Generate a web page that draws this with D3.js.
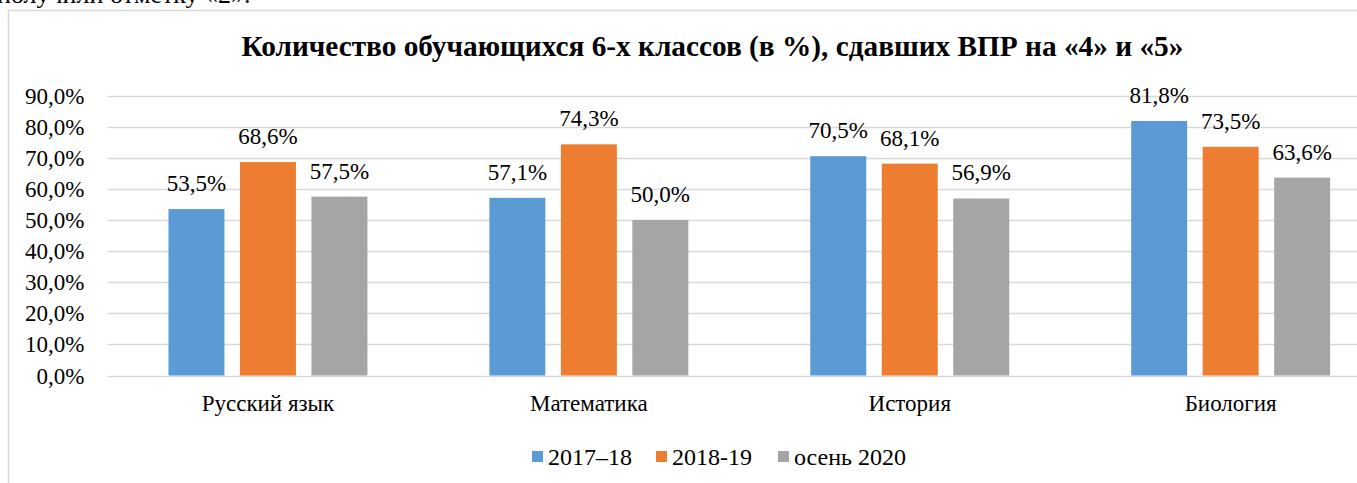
<!DOCTYPE html>
<html>
<head>
<meta charset="utf-8">
<script src="https://cdn.jsdelivr.net/npm/d3@7"></script>
<style>
  body { margin: 0; background: #fff; }
  svg text { font-family: "Liberation Serif", "Times New Roman", Tinos, serif !important; }
</style>
</head>
<body>
<div id="chart"></div>
<script>
// =========================
// DATA
// =========================
const categories = ["Русский язык", "Математика", "История", "Биология"];
const seriesNames = ["2017–18", "2018-19", "осень 2020"];
const values2017 = [53.5, 57.1, 70.5, 81.8];
const values2018 = [68.6, 74.3, 68.1, 73.5];
const valuesAutumn2020 = [57.5, 50.0, 56.9, 63.6];
const yTicks = [0, 10, 20, 30, 40, 50, 60, 70, 80, 90];
const colors = ["#5B9BD5", "#ED7D31", "#A5A5A5"];

const series = [values2017, values2018, valuesAutumn2020];
const rows = categories.map((c, i) => ({
    category: c,
    values: series.map((s, j) => ({ key: seriesNames[j], value: s[i] }))
}));

const fmt = v => v.toFixed(1).replace(".", ",") + "%";

// =========================
// SETUP
// =========================
const width = 1357;
const height = 483;
const plot = { left: 107.5, right: 107.5 + 4 * 320.9, top: 95.5, bottom: 375.5 };

const svg = d3.select("#chart")
    .append("svg")
    .attr("width", width)
    .attr("height", height)
    .style("display", "block");

// line of page text above the chart (cut off by the crop)
svg.append("text")
    .attr("x", -3)
    .attr("y", 3)
    .style("font-size", "26px")
    .text("получили отметку «2».");

// chart frame
svg.append("rect")
    .attr("x", 8.5)
    .attr("y", 10.5)
    .attr("width", 1500)
    .attr("height", 600)
    .attr("fill", "none")
    .attr("stroke", "#D9D9D9")
    .attr("stroke-width", 1.5);

// =========================
// SCALES
// =========================
const x0 = d3.scaleBand()
    .domain(categories)
    .range([plot.left, plot.right])
    .paddingInner(0.38)
    .paddingOuter(0.19);

const x1 = d3.scaleBand()
    .domain(seriesNames)
    .range([0, x0.bandwidth()])
    .paddingInner(0.217);

const y = d3.scaleLinear()
    .domain([0, 90])
    .range([plot.bottom, plot.top]);

// =========================
// GRID + Y AXIS
// =========================
svg.append("g")
    .selectAll("line")
    .data(yTicks)
    .join("line")
    .attr("x1", plot.left)
    .attr("x2", plot.right)
    .attr("y1", d => Math.round(y(d)) + 0.5)
    .attr("y2", d => Math.round(y(d)) + 0.5)
    .attr("stroke", "#D9D9D9")
    .attr("stroke-width", 1.5);

const yAxis = svg.append("g")
    .attr("transform", `translate(${plot.left - 23},0)`)
    .call(d3.axisLeft(y).tickValues(yTicks).tickSize(0).tickPadding(0).tickFormat(fmt));
yAxis.select(".domain").remove();
yAxis.selectAll("text")
    .attr("dy", "0.33em")
    .style("font-size", "23px")
    .attr("fill", "#000");

// =========================
// BARS
// =========================
const groups = svg.append("g")
    .selectAll("g")
    .data(rows)
    .join("g")
    .attr("transform", d => `translate(${x0(d.category)},0)`);

groups.selectAll("rect")
    .data(d => d.values)
    .join("rect")
    .attr("x", d => x1(d.key))
    .attr("y", d => y(d.value))
    .attr("width", x1.bandwidth())
    .attr("height", d => y(0) - y(d.value))
    .attr("fill", (d, i) => colors[i]);

groups.selectAll("text")
    .data(d => d.values)
    .join("text")
    .attr("x", d => x1(d.key) + x1.bandwidth() / 2)
    .attr("y", d => y(d.value) - 18)
    .attr("text-anchor", "middle")
    .style("font-size", "23px")
    .text(d => fmt(d.value));

// =========================
// X AXIS LABELS
// =========================
svg.append("g")
    .selectAll("text")
    .data(categories)
    .join("text")
    .attr("x", d => x0(d) + x0.bandwidth() / 2)
    .attr("y", 411)
    .attr("text-anchor", "middle")
    .style("font-size", "23px")
    .text(d => d);

// =========================
// TITLE
// =========================
svg.append("text")
    .attr("x", 712.4)
    .attr("y", 56)
    .attr("text-anchor", "middle")
    .style("font-size", "29.3px")
    .style("font-weight", "bold")
    .text("Количество обучающихся 6-х классов (в %), сдавших ВПР на «4» и «5»");

// =========================
// LEGEND
// =========================
const legendX = [532, 656, 778];
const legend = svg.append("g");
seriesNames.forEach((name, i) => {
    legend.append("rect")
        .attr("x", legendX[i])
        .attr("y", 451)
        .attr("width", 11)
        .attr("height", 11)
        .attr("fill", colors[i]);
    legend.append("text")
        .attr("x", legendX[i] + 16)
        .attr("y", 465)
        .style("font-size", "24px")
        .text(name);
});
</script>
</body>
</html>
